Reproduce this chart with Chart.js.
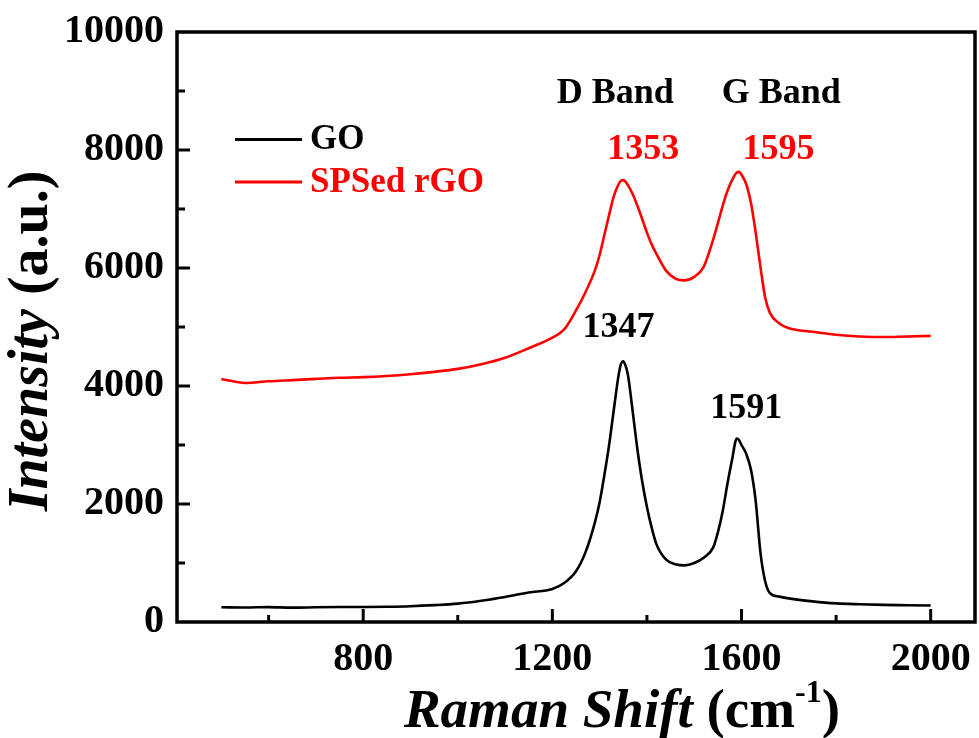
<!DOCTYPE html>
<html>
<head>
<meta charset="utf-8">
<script src="https://cdn.jsdelivr.net/npm/chart.js@4.4.1/dist/chart.umd.min.js"></script>
<style>
  html,body{margin:0;padding:0;background:#fff;}
  canvas{display:block;}
</style>
</head>
<body>
<canvas id="raman" width="979" height="738"></canvas>
<script>
// Raman shift (cm-1) sample points
const ramanShift = [500,550,600,650,700,750,800,850,900,950,1000,1050,1100,1150,1200,1225,1250,1270,1290,1300,1310,1320,1330,1340,1345,1350,1355,1360,1370,1380,1390,1400,1410,1420,1440,1460,1480,1500,1520,1540,1550,1560,1570,1580,1590,1595,1600,1610,1620,1630,1640,1650,1660,1680,1700,1750,1800,1850,1900,1950,2000];
const goIntensity = [250,246,252,244,249,253,255,259,268,286,312,360,424,500,560,660,860,1180,1690,2030,2490,3000,3600,4180,4370,4420,4340,4180,3560,2920,2380,1950,1600,1320,1060,980,960,1000,1090,1260,1520,1870,2330,2750,3110,3080,3000,2850,2580,2050,1180,690,490,430,400,350,315,300,290,285,280];
const rgoIntensity = [4120,4050,4080,4100,4120,4140,4150,4170,4200,4240,4290,4370,4480,4640,4820,4960,5280,5590,5960,6220,6560,6900,7220,7420,7480,7490,7460,7400,7250,7050,6830,6600,6400,6240,5960,5820,5790,5850,6020,6480,6760,7050,7300,7490,7620,7630,7580,7420,7100,6600,6020,5500,5240,5060,4980,4920,4870,4840,4830,4840,4850];
const seriesNames = ['GO', 'SPSed rGO'];
const seriesColors = ['#000000', '#ff0000'];
const xTickLabels = [800, 1200, 1600, 2000];
const yTickLabels = [0, 2000, 4000, 6000, 8000, 10000];
// peak annotations: [text, x, y, colour]
const notes = [
  ['D Band', 1333, 8790, '#000000'],
  ['G Band', 1684, 8790, '#000000'],
  ['1353', 1392, 7850, '#ff0000'],
  ['1595', 1678, 7850, '#ff0000'],
  ['1347', 1340, 4830, '#000000'],
  ['1591', 1610, 3460, '#000000']
];

const SERIF = '"Liberation Serif", "Times New Roman", serif';
const toPts = ys => ramanShift.map((x, i) => ({x, y: ys[i]}));
const noPad = s => { s.paddingLeft = s.paddingRight = s.paddingTop = s.paddingBottom = 0; };

const decor = {
  id: 'decor',
  afterDatasetsDraw(chart){
    const {ctx, chartArea: a, scales: {x, y}} = chart;
    ctx.save();
    ctx.strokeStyle = '#000'; ctx.lineWidth = 3.5; ctx.lineCap = 'butt';
    ctx.strokeRect(a.left, a.top, a.right - a.left, a.bottom - a.top);
    // inward ticks, bottom and left only
    ctx.lineWidth = 3;
    x.ticks.forEach(t => {
      const px = x.getPixelForValue(t.value), len = t.value % 400 === 0 ? 13 : 7;
      ctx.beginPath(); ctx.moveTo(px, a.bottom); ctx.lineTo(px, a.bottom - len); ctx.stroke();
    });
    y.ticks.forEach(t => {
      if(t.value <= 0 || t.value >= 10000) return;
      const py = y.getPixelForValue(t.value), len = t.value % 2000 === 0 ? 13 : 8;
      ctx.beginPath(); ctx.moveTo(a.left, py); ctx.lineTo(a.left + len, py); ctx.stroke();
    });

    // annotations
    ctx.font = 'bold 36px ' + SERIF; ctx.textAlign = 'center'; ctx.textBaseline = 'alphabetic';
    notes.forEach(([txt, vx, vy, c]) => {
      ctx.fillStyle = c; ctx.fillText(txt, x.getPixelForValue(vx), y.getPixelForValue(vy));
    });

    // legend
    ctx.textAlign = 'left'; ctx.font = 'bold 35px ' + SERIF;
    chart.data.datasets.forEach((ds, i) => {
      const ly = a.top + 107.5 + i * 42.5;
      ctx.strokeStyle = ds.borderColor; ctx.lineWidth = 3;
      ctx.beginPath(); ctx.moveTo(a.left + 58, ly); ctx.lineTo(a.left + 125, ly); ctx.stroke();
      ctx.fillStyle = ds.borderColor; ctx.fillText(ds.label, a.left + 133, ly + 9.5);
    });

    // axis titles
    ctx.fillStyle = '#000';
    const parts = (list) => list.reduce((w, p) => { ctx.font = p[1]; return w + ctx.measureText(p[0]).width; }, 0);
    const yParts = [['Intensity', 'italic bold 56px ' + SERIF], [' (a.u.)', 'bold 56px ' + SERIF]];
    ctx.save();
    ctx.translate(47, (a.top + a.bottom) / 2 + 14); ctx.rotate(-Math.PI / 2);
    let cx = -parts(yParts) / 2;
    yParts.forEach(p => { ctx.font = p[1]; ctx.fillText(p[0], cx, 0); cx += ctx.measureText(p[0]).width; });
    ctx.restore();

    const xParts = [['Raman Shift', 'italic bold 55px ' + SERIF, 0], [' (cm', 'bold 55px ' + SERIF, 0], ['-1', 'bold 32px ' + SERIF, -25], [')', 'bold 55px ' + SERIF, 0]];
    cx = 622 - parts(xParts) / 2;
    xParts.forEach(p => { ctx.font = p[1]; ctx.fillText(p[0], cx, 727 + p[2]); cx += ctx.measureText(p[0]).width; });
    ctx.restore();
  }
};

new Chart(document.getElementById('raman').getContext('2d'), {
  type: 'line',
  data: {
    datasets: [
      {label: seriesNames[0], data: toPts(goIntensity), borderColor: seriesColors[0], borderWidth: 2.6, pointRadius: 0, cubicInterpolationMode: 'monotone'},
      {label: seriesNames[1], data: toPts(rgoIntensity), borderColor: seriesColors[1], borderWidth: 2.6, pointRadius: 0, cubicInterpolationMode: 'monotone'}
    ]
  },
  options: {
    responsive: false, animation: false,
    layout: {padding: {top: 32, right: 4, left: 0, bottom: 0}},
    plugins: {legend: {display: false}, tooltip: {enabled: false}},
    scales: {
      x: {
        type: 'linear', min: 406.25, max: 2093.75,
        afterFit: s => { s.height = 116; noPad(s); },
        grid: {display: false, drawTicks: false},
        border: {display: false},
        ticks: {
          stepSize: 200, includeBounds: false, autoSkip: false, maxRotation: 0, padding: 14,
          color: '#000', font: {family: SERIF, size: 40, weight: 'bold'},
          callback: v => xTickLabels.includes(v) ? String(v) : ''
        }
      },
      y: {
        type: 'linear', min: 0, max: 10000,
        afterFit: s => { s.width = 177; noPad(s); },
        grid: {display: false, drawTicks: false},
        border: {display: false},
        ticks: {
          stepSize: 1000, autoSkip: false, padding: 13,
          color: '#000', font: {family: SERIF, size: 40, weight: 'bold'},
          callback: v => yTickLabels.includes(v) ? String(v) : ''
        }
      }
    }
  },
  plugins: [decor]
});
</script>
</body>
</html>
